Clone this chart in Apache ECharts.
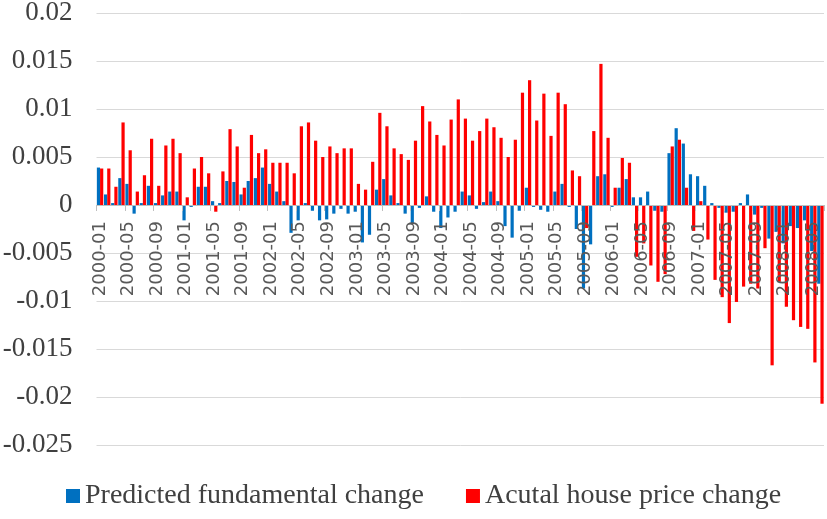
<!DOCTYPE html>
<html>
<head>
<meta charset="utf-8">
<script src="https://cdn.jsdelivr.net/npm/echarts@6/dist/echarts.min.js"></script>
<style>
html,body{margin:0;padding:0;background:#fff;}
#chart{width:827px;height:519px;}
</style>
</head>
<body>
<div id="chart"></div>
<script>
var months = [
'2000-01','2000-02','2000-03','2000-04','2000-05','2000-06','2000-07','2000-08','2000-09','2000-10','2000-11','2000-12',
'2001-01','2001-02','2001-03','2001-04','2001-05','2001-06','2001-07','2001-08','2001-09','2001-10','2001-11','2001-12',
'2002-01','2002-02','2002-03','2002-04','2002-05','2002-06','2002-07','2002-08','2002-09','2002-10','2002-11','2002-12',
'2003-01','2003-02','2003-03','2003-04','2003-05','2003-06','2003-07','2003-08','2003-09','2003-10','2003-11','2003-12',
'2004-01','2004-02','2004-03','2004-04','2004-05','2004-06','2004-07','2004-08','2004-09','2004-10','2004-11','2004-12',
'2005-01','2005-02','2005-03','2005-04','2005-05','2005-06','2005-07','2005-08','2005-09','2005-10','2005-11','2005-12',
'2006-01','2006-02','2006-03','2006-04','2006-05','2006-06','2006-07','2006-08','2006-09','2006-10','2006-11','2006-12',
'2007-01','2007-02','2007-03','2007-04','2007-05','2007-06','2007-07','2007-08','2007-09','2007-10','2007-11','2007-12',
'2008-01','2008-02','2008-03','2008-04','2008-05','2008-06'
];

var predictedFundamental = [
 0.0039, 0.0011, 0.0002, 0.0028, 0.0022,-0.0009, 0.0002, 0.0020, 0.0002, 0.0010, 0.0014, 0.0014,
-0.0016,-0.0002, 0.0019, 0.0019, 0.0004, 0.0002, 0.0025, 0.0024, 0.0011, 0.0025, 0.0028, 0.0039,
 0.0022, 0.0014, 0.0004,-0.0029,-0.0016, 0.0002,-0.0006,-0.0016,-0.0015,-0.0009,-0.0004,-0.0009,
-0.0007,-0.0039,-0.0031, 0.0016, 0.0027, 0.0010, 0.0002,-0.0009,-0.0019,-0.0003, 0.0009,-0.0007,
-0.0024,-0.0013,-0.0007, 0.0014, 0.0010,-0.0004, 0.0003, 0.0014, 0.0004,-0.0022,-0.0034,-0.0006,
 0.0018,-0.0002,-0.0005,-0.0007, 0.0014, 0.0022,-0.0002,-0.0025,-0.0087,-0.0041, 0.0030, 0.0032,
-0.0002, 0.0018, 0.0027, 0.0008, 0.0008, 0.0014,-0.0006,-0.0007, 0.0054, 0.0080, 0.0064, 0.0032,
 0.0030, 0.0020, 0.0002,-0.0003,-0.0008,-0.0007, 0.0002, 0.0011,-0.0010,-0.0003,-0.0035,-0.0028,
-0.0040,-0.0022,-0.0024,-0.0016,-0.0048,-0.0082
];

var actualHousePrice = [
 0.0038, 0.0038, 0.0019, 0.0086, 0.0057, 0.0014, 0.0031, 0.0069, 0.0020, 0.0062, 0.0069, 0.0054,
 0.0008, 0.0038, 0.0050, 0.0033,-0.0007, 0.0035, 0.0079, 0.0061, 0.0018, 0.0073, 0.0054, 0.0058,
 0.0044, 0.0044, 0.0044, 0.0033, 0.0082, 0.0086, 0.0067, 0.0050, 0.0061, 0.0054, 0.0059, 0.0059,
 0.0022, 0.0016, 0.0045, 0.0096, 0.0082, 0.0059, 0.0053, 0.0047, 0.0067, 0.0103, 0.0087, 0.0073,
 0.0062, 0.0089, 0.0110, 0.0090, 0.0067, 0.0077, 0.0090, 0.0081, 0.0070, 0.0050, 0.0068, 0.0117,
 0.0130, 0.0088, 0.0116, 0.0072, 0.0117, 0.0105, 0.0036, 0.0030,-0.0024, 0.0077, 0.0147, 0.0070,
 0.0018, 0.0049, 0.0044,-0.0054,-0.0040,-0.0063,-0.0080,-0.0072, 0.0061, 0.0068, 0.0018,-0.0027,
 0.0004,-0.0036,-0.0078,-0.0096,-0.0123,-0.0101,-0.0085,-0.0082,-0.0087,-0.0045,-0.0167,-0.0080,
-0.0106,-0.0120,-0.0127,-0.0129,-0.0164,-0.0207
];

var yTickLabels = ['-0.025','-0.02','-0.015','-0.01','-0.005','0','0.005','0.01','0.015','0.02'];
var seriesNames = ['Predicted fundamental change', 'Acutal house price change'];

var gridTop = 13, gridBottomY = 445, zeroY = 205;

var chart = echarts.init(document.getElementById('chart'), null, {renderer: 'canvas'});
chart.setOption({
  animation: false,
  backgroundColor: '#ffffff',
  grid: {left: 96.5, right: 3, top: gridTop, bottom: 519 - gridBottomY, containLabel: false, outerBoundsMode: 'none'},
  legend: {
    data: seriesNames,
    left: 66,
    top: 482,
    padding: 0,
    icon: 'rect',
    itemWidth: 14,
    itemHeight: 14,
    itemGap: 42,
    textStyle: {fontFamily: 'Liberation Serif', fontSize: 28, color: '#404040'}
  },
  xAxis: {
    type: 'category',
    data: months,
    z: 10,
    position: 'bottom',
    offset: zeroY - gridBottomY,
    boundaryGap: true,
    axisLine: {onZero: false, lineStyle: {color: '#bfbfbf', width: 1}},
    axisTick: {show: true, interval: 3, length: 6, alignWithLabel: false, lineStyle: {color: '#bfbfbf'}},
    axisLabel: {
      interval: 3,
      rotate: 90,
      margin: 16,
      fontFamily: 'DejaVu Sans',
      fontSize: 18,
      color: '#595959'
    },
    splitLine: {show: false}
  },
  yAxis: {
    type: 'value',
    min: -0.025,
    max: 0.02,
    interval: 0.005,
    axisLine: {show: false},
    axisTick: {show: false},
    axisLabel: {
      margin: 24,
      fontFamily: 'Liberation Serif',
      fontSize: 27,
      color: '#404040',
      formatter: function (v) {
        var idx = Math.round((v + 0.025) / 0.005);
        return yTickLabels[idx];
      }
    },
    splitLine: {show: true, lineStyle: {color: '#d9d9d9', width: 1}}
  },
  series: [
    {
      name: seriesNames[0],
      type: 'bar',
      data: predictedFundamental,
      itemStyle: {color: '#0070C0'},
      barGap: '0%',
      barCategoryGap: '10%'
    },
    {
      name: seriesNames[1],
      type: 'bar',
      data: actualHousePrice,
      itemStyle: {color: '#FF0000'},
      barGap: '0%',
      barCategoryGap: '10%'
    }
  ]
});
</script>
</body>
</html>
